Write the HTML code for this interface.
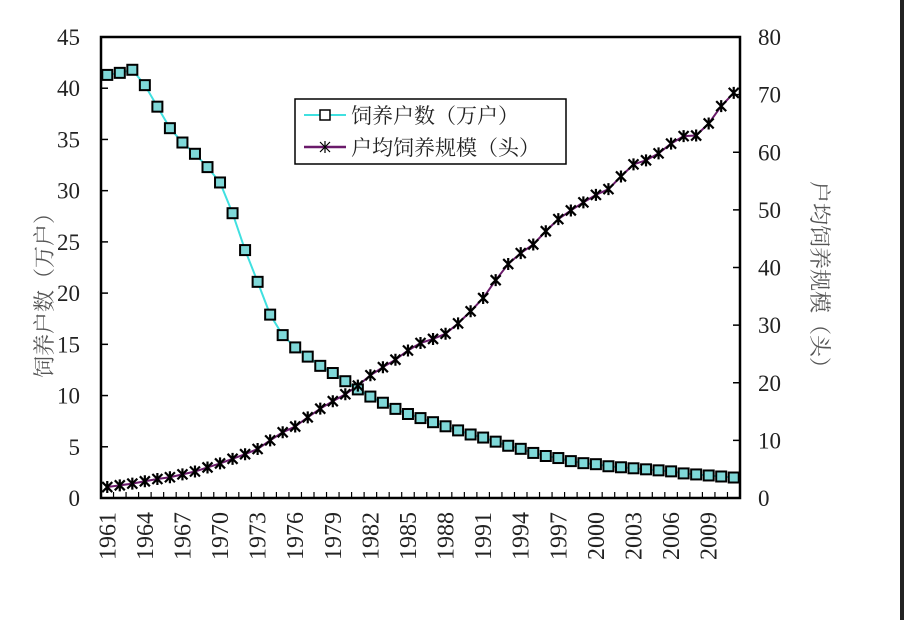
<!DOCTYPE html>
<html><head><meta charset="utf-8"><style>
body{margin:0;background:#fff;width:904px;height:620px;overflow:hidden}
svg text{font-family:"Liberation Serif","Noto Serif CJK SC",serif;fill:#222}
</style></head><body>
<svg id="s" width="904" height="620" xmlns="http://www.w3.org/2000/svg">
<rect x="900" y="0" width="4" height="620" fill="#222"/>
<g id="g"></g>
</svg>
<script>
const A=[41.3,41.5,41.8,40.3,38.2,36.1,34.7,33.6,32.3,30.8,27.8,24.2,21.1,17.9,15.9,14.7,13.8,12.9,12.2,11.4,10.6,9.9,9.3,8.7,8.2,7.8,7.4,7.0,6.6,6.2,5.9,5.5,5.1,4.8,4.4,4.1,3.9,3.6,3.4,3.3,3.1,3.0,2.9,2.8,2.7,2.6,2.4,2.3,2.2,2.1,2.0];
const B=[1.9,2.2,2.5,2.9,3.3,3.6,4.1,4.6,5.3,6.0,6.8,7.6,8.5,10.0,11.4,12.4,14.0,15.5,16.8,18.0,19.5,21.3,22.7,24.0,25.6,26.9,27.6,28.5,30.3,32.4,34.7,37.8,40.6,42.5,44.0,46.3,48.4,49.9,51.3,52.6,53.6,55.8,57.9,58.6,59.8,61.5,62.8,62.9,65.0,68.0,70.3];
const L=101,R=740,T=37,Bt=498,W=(R-L)/51;
const X=i=>L+W*(i+0.5),YA=v=>Bt-v*(Bt-T)/45,YB=v=>Bt-v*(Bt-T)/80;
let s='';
s+=`<rect x="${L}" y="${T}" width="${R-L}" height="${Bt-T}" fill="none" stroke="#000" stroke-width="2.5"/>`;
for(let i=0;i<=9;i++){let y=YA(i*5);s+=`<line x1="${L}" x2="${L+7}" y1="${y}" y2="${y}" stroke="#000" stroke-width="1.5"/><text x="80" y="${y+8}" font-size="23" text-anchor="end">${i*5}</text>`;}
for(let i=0;i<=8;i++){let y=YB(i*10);s+=`<line x1="${R-7}" x2="${R}" y1="${y}" y2="${y}" stroke="#000" stroke-width="1.5"/><text x="758" y="${y+8}" font-size="23">${i*10}</text>`;}
for(let i=0;i<=51;i++){let x=L+W*i;s+=`<line x1="${x}" x2="${x}" y1="${Bt}" y2="${Bt-6}" stroke="#000" stroke-width="1.2"/>`;}
for(let i=0;i<51;i+=3){let x=X(i);s+=`<text transform="translate(${x+8},512) rotate(-90)" font-size="24" text-anchor="end">${1961+i}</text>`;}
s+=`<polyline fill="none" stroke="#40E0E0" stroke-width="2" points="${A.map((v,i)=>X(i)+','+YA(v)).join(' ')}"/>`;
s+=`<polyline fill="none" stroke="#6a1a6a" stroke-width="2" points="${B.map((v,i)=>X(i)+','+YB(v)).join(' ')}"/>`;
A.forEach((v,i)=>{s+=`<rect x="${X(i)-5}" y="${YA(v)-5}" width="10" height="10" fill="#7fd8d8" stroke="#000" stroke-width="2"/>`;});
const star=(x,y,r,w)=>`<path d="M${x-r} ${y-r}L${x+r} ${y+r}M${x-r} ${y+r}L${x+r} ${y-r}M${x} ${y-r-1}L${x} ${y+r+1}" stroke="#000" stroke-width="${w}"/>`;
B.forEach((v,i)=>{s+=star(X(i),YB(v),5,2.2);});
s+=`<rect x="295" y="99" width="271" height="65" fill="#fff" stroke="#000" stroke-width="1.5"/>`;
s+=`<line x1="304" x2="346" y1="115" y2="115" stroke="#40E0E0" stroke-width="2"/><rect x="320" y="110" width="10" height="10" fill="#fff" stroke="#000" stroke-width="1.5"/>`;
s+=`<text x="351" y="123" font-size="21">饲养户数（万户）</text>`;
s+=`<line x1="304" x2="346" y1="147" y2="147" stroke="#6a1a6a" stroke-width="2.5"/>`+star(325,147,5,1.2);
s+=`<text x="351" y="155" font-size="21">户均饲养规模（头）</text>`;
s+=`<text transform="translate(52,290) rotate(-90)" font-size="22" text-anchor="middle" style="fill:#555">饲养户数（万户）</text>`;
s+=`<text transform="translate(812,280) rotate(90)" font-size="22" text-anchor="middle" style="fill:#555">户均饲养规模（头）</text>`;
document.getElementById('g').innerHTML=s;
</script>
</body></html>
